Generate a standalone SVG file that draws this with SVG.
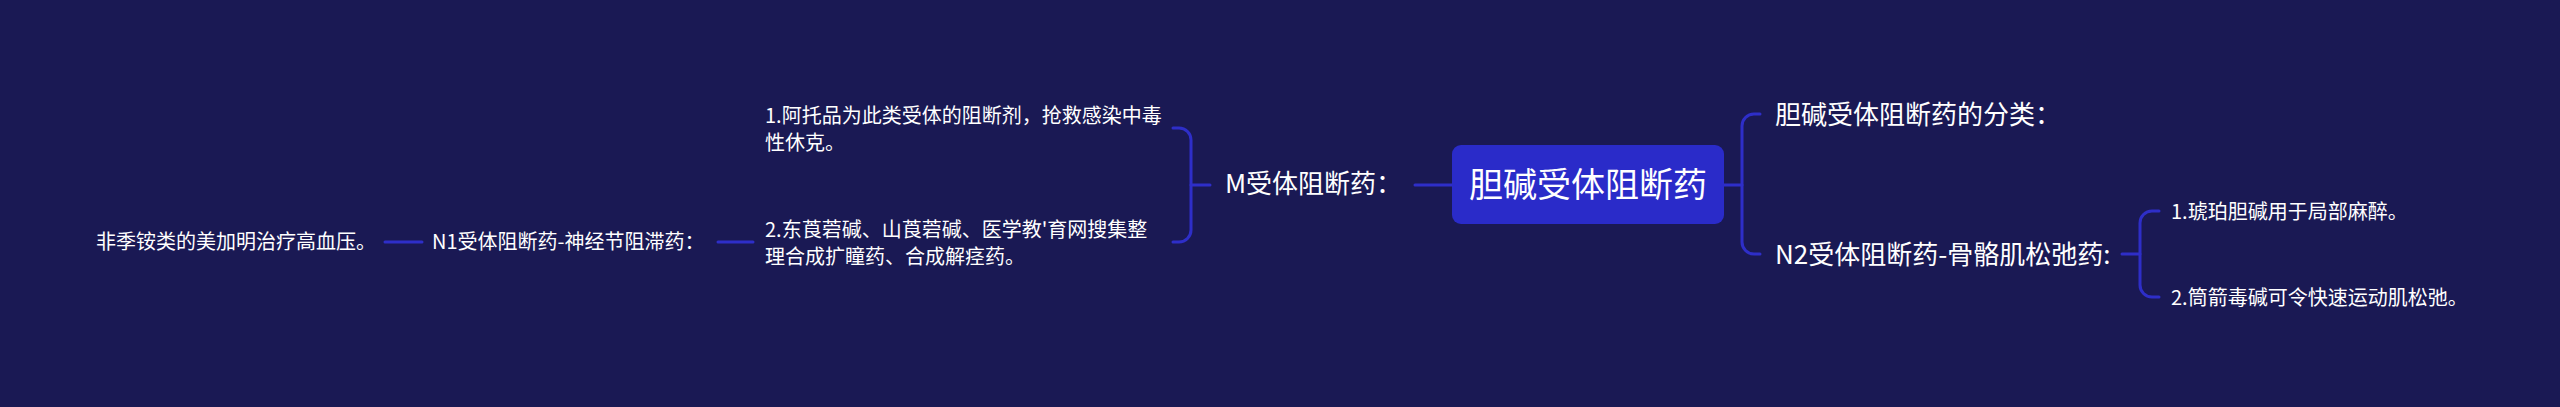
<svg xmlns="http://www.w3.org/2000/svg" width="2560" height="407" viewBox="0 0 2560 407">
<style>
.t{font-family:"Noto Sans CJK SC","Noto Sans",sans-serif;fill:#ffffff}
.l1{font-size:26px}
.l2{font-size:20px}
.c{fill:none;stroke:#2e2ec8;stroke-width:3;stroke-linecap:round}
</style>
<rect width="2560" height="407" fill="#1a1954"/>
<g id="connectors">
<path class="c" d="M1415,185 H1452"/>
<path class="c" d="M1724,185 H1742"/>
<path class="c" d="M1760,114 H1754 A12,12 0 0 0 1742,126 V242 A12,12 0 0 0 1754,254 H1760"/>
<path class="c" d="M2122,254 H2140"/>
<path class="c" d="M2159,211 H2152 A12,12 0 0 0 2140,223 V285 A12,12 0 0 0 2152,297 H2159"/>
<path class="c" d="M1210,185 H1191"/>
<path class="c" d="M1173,128 H1179 A12,12 0 0 1 1191,140 V230 A12,12 0 0 1 1179,242 H1173"/>
<path class="c" d="M753,242 H718"/>
<path class="c" d="M422,242 H385"/>
</g>
<g id="root">
<rect x="1452" y="145" width="272" height="79" rx="9" fill="#2a2bc9"/>
<text class="t" x="1588" y="197" font-size="34" text-anchor="middle">胆碱受体阻断药</text>
</g>
<g id="classify">
<text class="t l1" x="1775" y="124">胆碱受体阻断药的分类：</text>
</g>
<g id="n2">
<text class="t l1" x="1775" y="264">N2受体阻断药-骨骼肌松弛药:</text>
</g>
<g id="n2-1">
<text class="t l2" x="2171" y="219">1.琥珀胆碱用于局部麻醉。</text>
</g>
<g id="n2-2">
<text class="t l2" x="2171" y="305">2.筒箭毒碱可令快速运动肌松弛。</text>
</g>
<g id="m">
<text class="t l1" x="1225" y="193">M受体阻断药：</text>
</g>
<g id="m-1">
<text class="t l2" x="765" y="123">1.阿托品为此类受体的阻断剂，抢救感染中毒</text>
<text class="t l2" x="765" y="150">性休克。</text>
</g>
<g id="m-2">
<text class="t l2" x="765" y="237">2.东莨菪碱、山莨菪碱、医学教'育网搜集整</text>
<text class="t l2" x="765" y="264">理合成扩瞳药、合成解痉药。</text>
</g>
<g id="n1">
<text class="t l2" x="432" y="249">N1受体阻断药-神经节阻滞药：</text>
</g>
<g id="n1-1">
<text class="t l2" x="96" y="249">非季铵类的美加明治疗高血压。</text>
</g>
</svg>
